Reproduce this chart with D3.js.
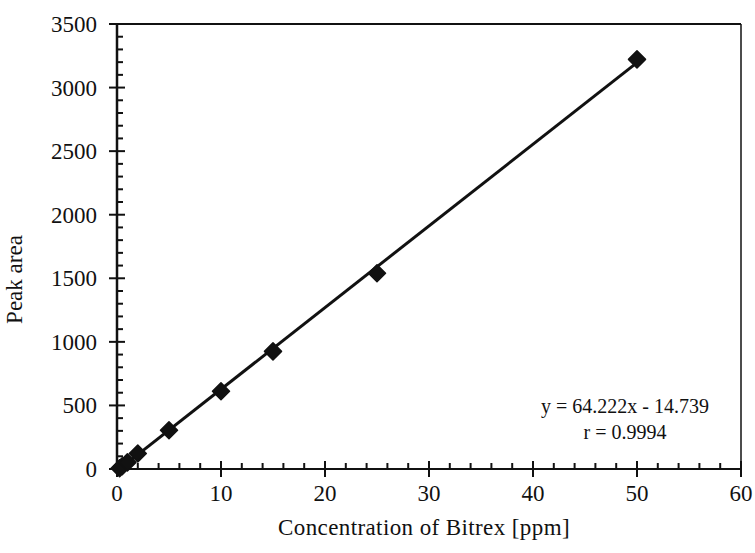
<!DOCTYPE html>
<html>
<head>
<meta charset="utf-8">
<script src="https://cdn.jsdelivr.net/npm/d3@7"></script>
<style>
  body { margin: 0; background: #fff; }
  text { font-family: "Liberation Serif", "Times New Roman", serif; fill: #111; }
</style>
</head>
<body>
<div id="chart"></div>
<script>
// calibration data
const conc = [0.25, 0.5, 1, 2, 5, 10, 15, 25, 50];
const area = [6, 22, 52, 122, 305, 612, 925, 1540, 3222];
const xTicks = [0, 10, 20, 30, 40, 50, 60];
const yTicks = [0, 500, 1000, 1500, 2000, 2500, 3000, 3500];
const slope = 64.222, intercept = -14.739;
const eqLines = ['y = 64.222x - 14.739', 'r = 0.9994'];

const W = 755, H = 553;
const margin = {top: 24, right: 14, bottom: 84, left: 117};
const width = W - margin.left - margin.right;
const height = H - margin.top - margin.bottom;

const svg = d3.select('#chart').append('svg')
  .attr('width', W)
  .attr('height', H);

const g = svg.append('g')
  .attr('transform', 'translate(' + margin.left + ',' + margin.top + ')');

const x = d3.scaleLinear().domain([0, 60]).range([0, width]);
const y = d3.scaleLinear().domain([0, 3500]).range([height, 0]);

// frame: top and right
g.append('line').attr('x1', 0).attr('x2', width).attr('y1', 0).attr('y2', 0)
  .attr('stroke', '#111').attr('stroke-width', 2);
g.append('line').attr('x1', width).attr('x2', width).attr('y1', 0).attr('y2', height)
  .attr('stroke', '#111').attr('stroke-width', 1.5);

// minor ticks
const xMinor = d3.range(0, 61, 2).filter(v => v % 10 !== 0);
const yMinor = d3.range(0, 3501, 100).filter(v => v % 500 !== 0);

g.selectAll('.xminor').data(xMinor).enter().append('line')
  .attr('x1', d => x(d)).attr('x2', d => x(d))
  .attr('y1', height).attr('y2', height - 6)
  .attr('stroke', '#111').attr('stroke-width', 2);

g.selectAll('.yminor').data(yMinor).enter().append('line')
  .attr('x1', 0).attr('x2', 6)
  .attr('y1', d => y(d)).attr('y2', d => y(d))
  .attr('stroke', '#111').attr('stroke-width', 2);

// major ticks crossing the axes
g.selectAll('.xmajor').data(xTicks).enter().append('line')
  .attr('x1', d => x(d)).attr('x2', d => x(d))
  .attr('y1', height - 8).attr('y2', height + 8)
  .attr('stroke', '#111').attr('stroke-width', 2);

g.selectAll('.ymajor').data(yTicks).enter().append('line')
  .attr('x1', -8).attr('x2', 8)
  .attr('y1', d => y(d)).attr('y2', d => y(d))
  .attr('stroke', '#111').attr('stroke-width', 2);

// axis lines
g.append('line').attr('x1', 0).attr('x2', width).attr('y1', height).attr('y2', height)
  .attr('stroke', '#111').attr('stroke-width', 2);
g.append('line').attr('x1', 0).attr('x2', 0).attr('y1', 0).attr('y2', height)
  .attr('stroke', '#111').attr('stroke-width', 2.5);

// tick labels
g.selectAll('.xlab').data(xTicks).enter().append('text')
  .attr('x', d => x(d)).attr('y', height + 32)
  .attr('text-anchor', 'middle')
  .style('font-size', '23px')
  .text(d => d);

g.selectAll('.ylab').data(yTicks).enter().append('text')
  .attr('x', -20).attr('y', d => y(d)).attr('dy', '0.35em')
  .attr('text-anchor', 'end')
  .style('font-size', '23px')
  .text(d => d);

// axis titles
g.append('text')
  .attr('x', width / 2 - 5).attr('y', height + 66)
  .attr('text-anchor', 'middle')
  .style('font-size', '23px')
  .style('letter-spacing', '0.4px')
  .text('Concentration of Bitrex [ppm]');

g.append('text')
  .attr('transform', 'translate(' + (-95) + ',' + (height / 2 + 33) + ') rotate(-90)')
  .attr('text-anchor', 'middle')
  .style('font-size', '23px')
  .text('Peak area');

// regression line
const xr = d3.extent(conc);
g.append('line')
  .attr('x1', x(xr[0])).attr('y1', y(slope * xr[0] + intercept))
  .attr('x2', x(xr[1])).attr('y2', y(slope * xr[1] + intercept))
  .attr('stroke', '#111').attr('stroke-width', 3);

// diamond markers
const diamond = d3.symbol().type(d3.symbolSquare).size(145);
g.selectAll('.pt').data(conc).enter().append('path')
  .attr('d', diamond)
  .attr('transform', (d, i) => 'translate(' + x(d) + ',' + y(area[i]) + ') rotate(45)')
  .attr('fill', '#111')
  .attr('stroke', '#111')
  .attr('stroke-width', 1.5)
  .attr('stroke-linejoin', 'round');

// equation
g.selectAll('.eq').data(eqLines).enter().append('text')
  .attr('x', 508).attr('y', (d, i) => 389 + i * 26)
  .attr('text-anchor', 'middle')
  .style('font-size', '20px')
  .text(d => d);
</script>
</body>
</html>
